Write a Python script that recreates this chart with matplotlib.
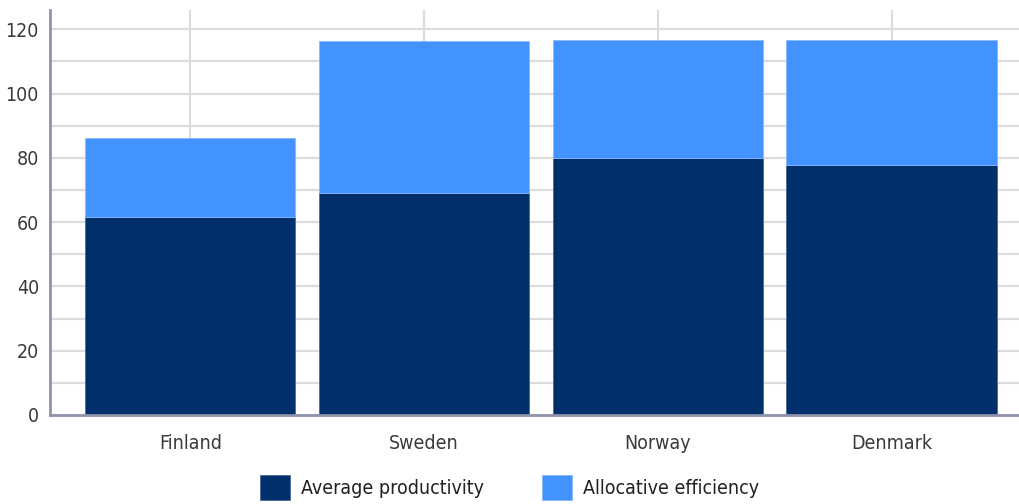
import matplotlib.pyplot as plt
from matplotlib import font_manager

countries = ["Finland", "Sweden", "Norway", "Denmark"]
avg_productivity = [61.5, 69.0, 80.1, 77.7]
allocative_eff = [24.8, 47.2, 36.7, 39.1]

dark = "#002f6c"
light = "#4292ff"

# pick a narrow sans face if one is installed
fonts = font_manager.fontManager.ttflist
narrow = [f for f in fonts if f.name == "Liberation Sans Narrow" and f.weight in (400, "normal")]
if not narrow:
    narrow = [f for f in fonts if "Condensed" in f.fname and "Sans" in f.fname
              and "Bold" not in f.fname and "Oblique" not in f.fname]
if narrow:
    font_manager.fontManager.addfont(narrow[0].fname)
    plt.rcParams["font.family"] = [narrow[0].name, "DejaVu Sans"]
    plt.rcParams["font.stretch"] = narrow[0].stretch

fig = plt.figure(figsize=(10.19, 5.04), dpi=100)
ax = fig.add_axes([50 / 1019, 89 / 504, 969 / 1019, 405 / 504])

x = range(len(countries))
ax.bar(x, avg_productivity, width=0.9, color=dark, edgecolor="#4a6a9a",
       linewidth=0.6, label="Average productivity", zorder=3)
ax.bar(x, allocative_eff, width=0.9, bottom=avg_productivity, color=light,
       edgecolor="#8ab8ff", linewidth=0.6, label="Allocative efficiency", zorder=3)

ax.set_xlim(-0.6, 3.545)
ax.set_ylim(0, 126)
ax.set_yticks(range(0, 121, 20))
ax.set_yticks(range(10, 121, 20), minor=True)
ax.set_xticks(list(x))
ax.set_xticklabels(countries)

ax.grid(True, which="both", color="#dcdcdc", linewidth=1.6, zorder=0)
ax.tick_params(axis="both", which="both", length=0, labelsize=14,
               colors="#3a3a3a", pad=8)
ax.tick_params(axis="x", pad=14)

for side in ("top", "right"):
    ax.spines[side].set_visible(False)
for side in ("left", "bottom"):
    ax.spines[side].set_color("#8f93ab")
    ax.spines[side].set_linewidth(2)
    ax.spines[side].set_zorder(4)

fig.legend(loc="lower center", bbox_to_anchor=(0.5, -0.026), ncol=2,
           frameon=False, fontsize=14, handlelength=1.55, handleheight=1.55,
           columnspacing=3.0, handletextpad=0.55, labelcolor="#222222")

fig.savefig("out.png", dpi=100)
